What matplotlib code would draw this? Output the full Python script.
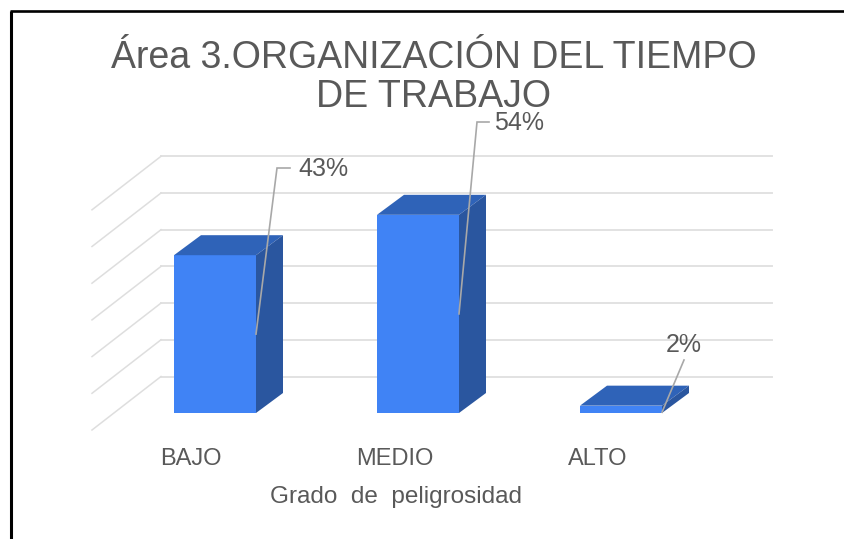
#%% Importation
import matplotlib
matplotlib.use('Agg')
import matplotlib.pyplot as plt

#%% Donnees
categories = ['BAJO', 'MEDIO', 'ALTO']
valeurs = [43, 54, 2]
etiquettes = ['43%', '54%', '2%']
graduations = [0, 10, 20, 30, 40, 50, 60]

titre = 'Área 3.ORGANIZACIÓN DEL TIEMPO\nDE TRABAJO'
titre_x = 'Grado  de  peligrosidad'

#%% Echelle : 1 categorie = 203 px, 10 % = 36.7 px
W, H = 844, 539
px_x = 1 / 203
px_y = 10 / 36.7
x0_px, y0_px = 215, 413      # centre de la 1ere barre, pied de la barre

def X(p):
    return (p - x0_px) * px_x

def Y(p):
    return (y0_px - p) * px_y

largeur = 82 * px_x
dx, dy = 27 * px_x, 20 * px_y
mur_y = (413 - 376.5) * px_y   # decalage du mur du fond

plt.rcParams['font.family'] = ['Liberation Sans', 'DejaVu Sans']
gris = '#595959'

fig = plt.figure(figsize=(W / 100, H / 100), dpi=100)
ax = fig.add_axes([0, 0, 1, 1])
ax.set_xlim(X(0), X(W))
ax.set_ylim(Y(H), Y(0))
ax.axis('off')

#%% Cadre
ax.plot([X(11), X(11)], [Y(H), Y(10.5)], color='black', lw=2.2, solid_capstyle='butt')
ax.plot([X(9.5), X(W)], [Y(10.5), Y(10.5)], color='black', lw=1.9, solid_capstyle='butt')

#%% Grille du fond et lignes obliques
for g in graduations:
    y_mur = g + mur_y
    ax.plot([X(161), X(772)], [y_mur, y_mur], color='#e2e2e2', lw=1.4, zorder=1)
    ax.plot([X(92), X(161)], [y_mur - 53.5 * px_y, y_mur], color='#dedede', lw=1.1, zorder=1)

#%% Barres
pos = list(range(len(categories)))
ax.bar(pos, valeurs, width=largeur, color='#4083f5', zorder=3)
for i, v in zip(pos, valeurs):
    g, d = i - largeur / 2, i + largeur / 2
    ax.fill([g, d, d + dx, g + dx], [v, v, v + dy, v + dy], color='#2f63b8', lw=0, zorder=3)
    ax.fill([d, d + dx, d + dx, d], [0, dy, v + dy, v], color='#2a569f', lw=0, zorder=3)

#%% Lignes de rappel et etiquettes
depart = [valeurs[0] / 2, valeurs[1] / 2, 0.2]
coude_px = [(21, 168), (18, 122), (22, 360)]   # ecart en x, y absolu en px
fin_px = [13, 12, 0]
texte_px = [(298, 169), (494, 123), (666, 345)]
for i in pos:
    xd = i + largeur / 2
    xc = xd + coude_px[i][0] * px_x
    yc = Y(coude_px[i][1])
    ax.plot([xd, xc, xc + fin_px[i] * px_x], [depart[i], yc, yc],
            color='#a8a8a8', lw=1.2, zorder=4, solid_joinstyle='miter')
    ax.text(X(texte_px[i][0]), Y(texte_px[i][1]), etiquettes[i], color=gris,
            fontsize=18, ha='left', va='center', zorder=5)

#%% Textes
for i, c in zip(pos, categories):
    ax.text(X(191 + i * 203.5), Y(459), c, color=gris, fontsize=17, ha='center', va='center')
ax.text(X(396.5), Y(497), titre_x, color=gris, fontsize=17.5, ha='center', va='center')
ax.text(X(433.5), Y(77.5), titre, color=gris, fontsize=27, ha='center', va='center',
        linespacing=1.13, zorder=2)

fig.savefig('out.png', dpi=100)
